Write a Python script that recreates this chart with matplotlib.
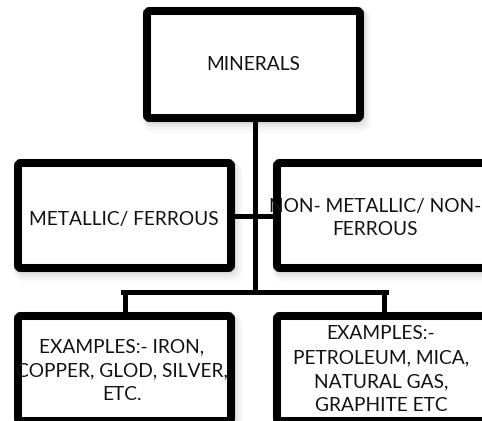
import matplotlib
matplotlib.use("Agg")
import matplotlib.pyplot as plt
from matplotlib.patches import FancyBboxPatch

# box labels
top_label = "MINERALS"
mid_labels = ["METALLIC/ FERROUS", "NON- METALLIC/ NON-\nFERROUS"]
bottom_labels = ["EXAMPLES:- IRON,\nCOPPER, GLOD, SILVER,\nETC.",
                 "EXAMPLES:-\nPETROLEUM, MICA,\nNATURAL GAS,\nGRAPHITE ETC"]

plt.rcParams['font.family'] = ['Lato', 'DejaVu Sans']

fig = plt.figure(figsize=(4.82, 4.21), dpi=100)
ax = fig.add_axes([0, 0, 1, 1])
ax.set_xlim(0, 482)
ax.set_ylim(421, 0)
ax.axis('off')

BORDER = 5.8   # pt, about 8 px
LINE = 3.6     # pt, about 5 px


def box(x0, y0, x1, y1, text, tx=None, ty=None, ls=1.5):
    # soft shadow
    for i, a in enumerate([0.05, 0.04, 0.03, 0.02]):
        d = 2 + i * 1.5
        sh = FancyBboxPatch((x0 + d * 0.6, y0 + d), x1 - x0, y1 - y0,
                            boxstyle="round,pad=0,rounding_size=4",
                            fc='none', ec='black', lw=BORDER + i * 2, alpha=a, zorder=1)
        ax.add_patch(sh)
    p = FancyBboxPatch((x0, y0), x1 - x0, y1 - y0,
                       boxstyle="round,pad=0,rounding_size=3",
                       fc='white', ec='black', lw=BORDER, zorder=3)
    ax.add_patch(p)
    if tx is None:
        tx = (x0 + x1) / 2
    if ty is None:
        ty = (y0 + y1) / 2
    ax.text(tx, ty, text, ha='center', va='center', fontsize=13.8,
            linespacing=ls, color='#111111', zorder=4)


# connectors
ax.plot([254.5, 254.5], [118, 291.5], color='black', lw=LINE, zorder=2, solid_capstyle='butt')
ax.plot([231, 277], [215.5, 215.5], color='black', lw=LINE, zorder=2, solid_capstyle='butt')
ax.plot([123, 386], [291.5, 291.5], color='black', lw=LINE, zorder=2, solid_capstyle='projecting')
ax.plot([125, 125], [291.5, 316], color='black', lw=LINE, zorder=2, solid_capstyle='butt')
ax.plot([383.5, 383.5], [291.5, 316], color='black', lw=LINE, zorder=2, solid_capstyle='butt')

box(147, 11, 360, 118, top_label, ty=64.5)
box(18, 163, 231, 268, mid_labels[0], tx=124, ty=219)
box(277, 163, 489, 268, mid_labels[1], tx=375, ty=218, ls=1.4)
box(18, 316, 231, 421, bottom_labels[0], tx=122, ty=371)
box(277, 316, 489, 421, bottom_labels[1], tx=381, ty=369.5)

fig.savefig("out.png", dpi=100)
